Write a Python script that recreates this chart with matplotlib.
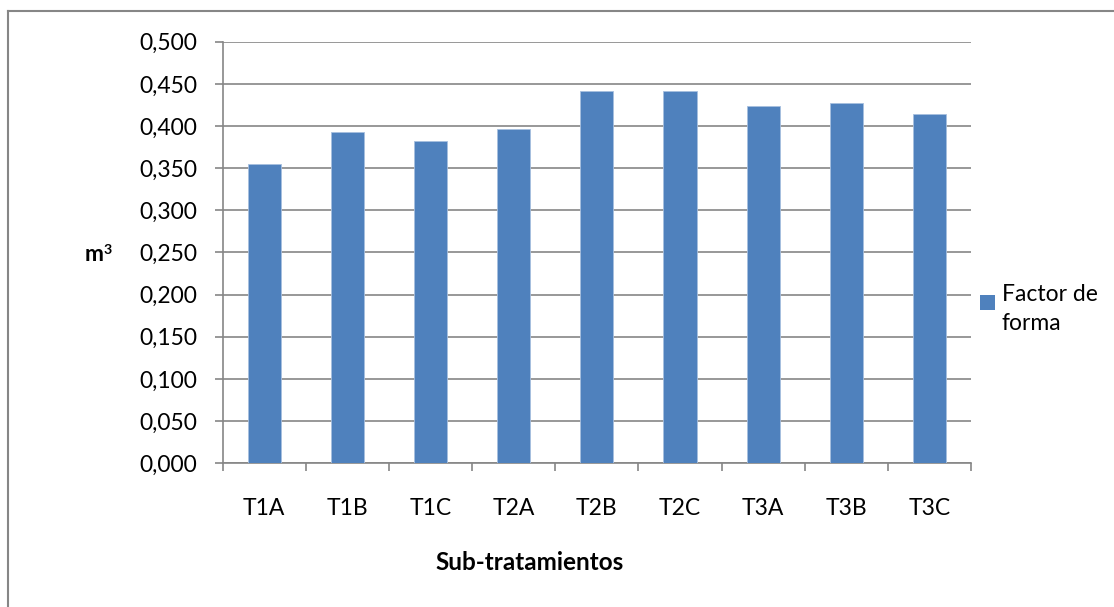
import matplotlib
matplotlib.use("Agg")
import matplotlib.pyplot as plt
from matplotlib.patches import Rectangle
from matplotlib.lines import Line2D
from matplotlib.ticker import FuncFormatter, MultipleLocator

# Data
categories = ["T1A", "T1B", "T1C", "T2A", "T2B", "T2C", "T3A", "T3B", "T3C"]
factor_forma = [0.355, 0.393, 0.382, 0.396, 0.442, 0.442, 0.424, 0.427, 0.414]
series_label = "Factor de\nforma"
y_label_base, y_label_sup = "m", "3"
x_label = "Sub-tratamientos"

W, H = 1114, 607
DPI = 100
BAR = "#4F81BD"
GRID = "#868686"
FONT = "Lato"
FS = 16.5

plt.rcParams["font.family"] = [FONT, "DejaVu Sans"]

fig = plt.figure(figsize=(W / DPI, H / DPI), dpi=DPI)
ax = fig.add_axes([222.7 / W, 1 - 463.3 / H, (971 - 222.7) / W, (463.3 - 41.7) / H])

x = range(len(categories))
ax.bar(x, factor_forma, width=0.4, color=BAR, edgecolor="#a7bfdf", linewidth=0.6, zorder=3)

ax.set_xlim(-0.5, len(categories) - 0.5)
ax.set_ylim(0, 0.5)
ax.yaxis.set_major_locator(MultipleLocator(0.05))
ax.yaxis.set_major_formatter(FuncFormatter(lambda v, p: f"{v:.3f}".replace(".", ",")))
ax.grid(axis="y", color=GRID, linewidth=1.2, zorder=0)
ax.set_axisbelow(True)

# Tick marks sit between categories; labels are centred under the bars
ax.set_xticks([i - 0.5 for i in range(len(categories) + 1)], minor=False)
ax.set_xticklabels([])
ax.set_xticks(list(x), minor=True)
ax.set_xticklabels(categories, minor=True)
ax.tick_params(axis="x", which="major", length=5.5, width=1.2, color=GRID, direction="out")
ax.tick_params(axis="x", which="minor", length=0, pad=25, labelsize=FS, labelcolor="#000000")
ax.tick_params(axis="y", length=5.5, width=1.2, color=GRID, direction="out", pad=13,
               labelsize=FS, labelcolor="#000000")

for s in ["top", "right"]:
    ax.spines[s].set_visible(False)
for s in ["left", "bottom"]:
    ax.spines[s].set_color(GRID)
    ax.spines[s].set_linewidth(1.2)

# Axis titles
fig.text(104 / W, 1 - 255 / H, y_label_base, ha="right", va="center", fontsize=FS,
         fontweight="bold")
fig.text(104 / W, 1 - 250 / H, y_label_sup, ha="left", va="center", fontsize=FS * 0.62,
         fontweight="bold")
fig.text(530 / W, 1 - 563 / H, x_label, ha="center", va="center", fontsize=FS + 1,
         fontweight="bold")

# Legend
fig.add_artist(Rectangle((980 / W, 1 - 310 / H), 15 / W, 15 / H, transform=fig.transFigure,
                         facecolor=BAR, edgecolor="none"))
fig.text(1002 / W, 1 - 303 / H, series_label, ha="left", va="center_baseline", fontsize=FS,
         linespacing=1.45, transform=fig.transFigure)

# Chart frame (left and top edges)
fig.add_artist(Line2D([8 / W, 8 / W], [0, 1 - 11 / H], transform=fig.transFigure,
                      color=GRID, linewidth=1.5))
fig.add_artist(Line2D([8 / W, 1], [1 - 11 / H, 1 - 11 / H], transform=fig.transFigure,
                      color=GRID, linewidth=1.5))

fig.savefig("out.png", dpi=DPI, facecolor="white")
